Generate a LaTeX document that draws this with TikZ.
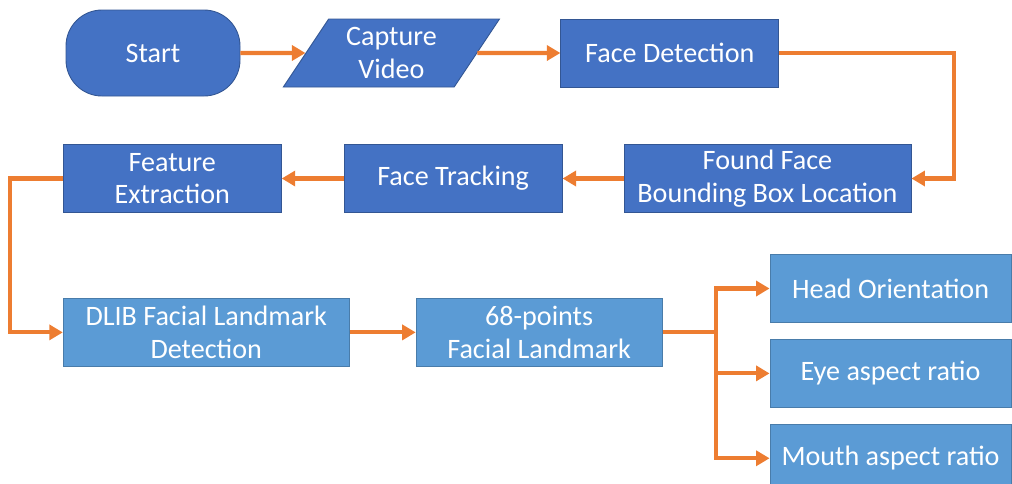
\documentclass[tikz,border=0pt]{standalone}
\usepackage{fontspec}
\setmainfont{Carlito}
\usetikzlibrary{positioning,calc}
\usetikzlibrary{arrows.meta}
\usetikzlibrary{shapes.geometric}

\definecolor{darkbox}{HTML}{4472C4}
\definecolor{lightbox}{HTML}{5B9BD5}
\definecolor{flowline}{HTML}{ED7D31}

\tikzset{
  every node/.style={font=\fontsize{16}{18.5}\selectfont, text=white, align=center},
  stepbox/.style={rectangle, fill=darkbox, draw=darkbox!75!black, line width=0.5pt,
                  minimum width=4.36cm, minimum height=1.36cm, inner sep=2pt},
  lightstep/.style={stepbox, fill=lightbox, draw=lightbox!80!black},
  terminal/.style={rectangle, rounded corners=0.72cm, fill=darkbox,
                   draw=darkbox!75!black, line width=0.5pt, minimum width=3.48cm, minimum height=1.72cm},
  inout/.style={trapezium, trapezium left angle=58, trapezium right angle=122,
                trapezium stretches=true, fill=darkbox, draw=darkbox!75!black, line width=0.5pt,
                minimum width=4.34cm, minimum height=1.36cm, inner sep=1pt},
  flow/.style={draw=flowline, line width=2.3pt, -{Triangle[length=0.27cm,width=0.3cm]}},
}

\begin{document}
\begin{tikzpicture}
  \useasboundingbox (0,0) rectangle (20.24,-9.66);

  % top row
  \node[terminal] (start) at (3.06,-1.06) {Start};
  \node[inout, right=1.3cm of start] (capture) {Capture\\Video};
  \node[stepbox, right=1.66cm of capture] (facedet) {Face Detection};

  % second row, right to left
  \node[stepbox, minimum width=5.74cm] (found) at (15.35,-3.57) {Found Face\\Bounding Box Location};
  \node[stepbox, left=1.22cm of found] (tracking) {Face Tracking};
  \node[stepbox, left=1.24cm of tracking] (feature) {Feature\\Extraction};

  % landmarks
  \node[lightstep, minimum width=5.72cm, below=1.7cm of feature.south west, anchor=north west] (dlib) {DLIB Facial Landmark\\Detection};
  \node[lightstep, minimum width=4.92cm, right=1.32cm of dlib] (landmark) {68-points\\Facial Landmark};

  % outputs
  \node[lightstep, minimum width=4.82cm] (head) at (17.81,-5.77) {Head Orientation};
  \node[lightstep, minimum width=4.82cm, below=0.32cm of head] (eye) {Eye aspect ratio};
  \node[lightstep, minimum width=4.82cm, below=0.32cm of eye] (mouth) {Mouth aspect ratio};

  \coordinate (fork) at ($(landmark.east)+(1.06,0)$);

  \draw[flow] (start) -- (capture);
  \draw[flow] (capture) -- (facedet);
  \draw[flow] (facedet.east) -- ++(3.5,0) |- (found.east);
  \draw[flow] (found) -- (tracking);
  \draw[flow] (tracking) -- (feature);
  \draw[flow] (feature.west) -- ++(-1.06,0) |- (dlib.west);
  \draw[flow] (dlib) -- (landmark);
  \draw[draw=flowline, line width=2.3pt] (landmark.east) -- (fork);
  \draw[flow] (fork) |- (head.west);
  \draw[flow] (fork |- eye.west) -- (eye.west);
  \draw[flow] (fork) |- (mouth.west);
\end{tikzpicture}
\end{document}
